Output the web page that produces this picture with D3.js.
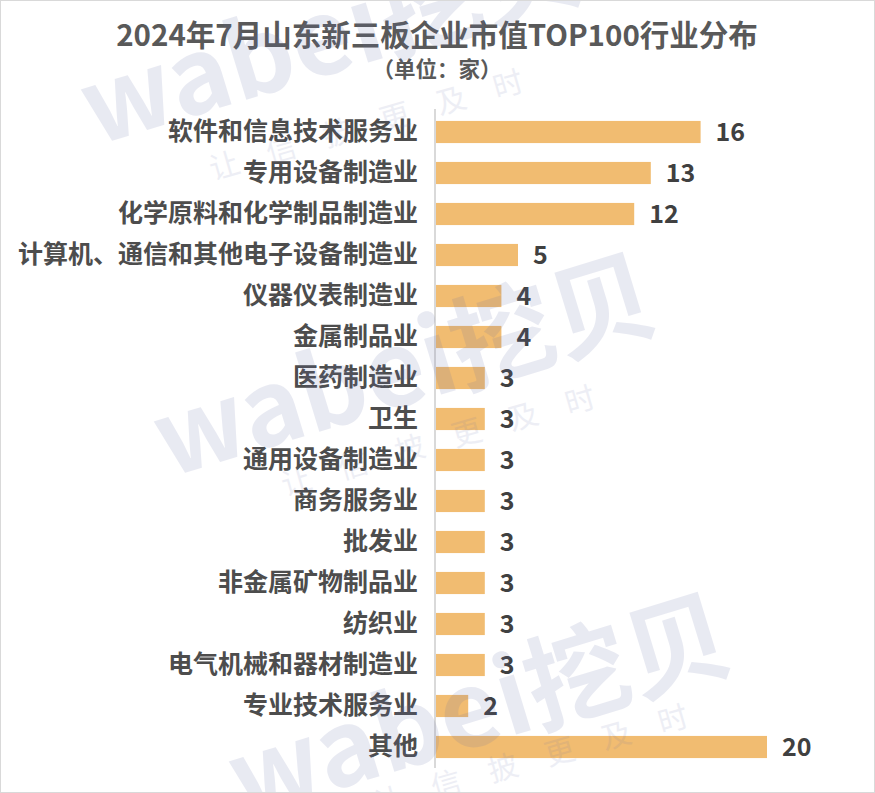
<!DOCTYPE html>
<html><head><meta charset="utf-8">
<script src="https://cdn.jsdelivr.net/npm/d3@7/dist/d3.min.js"></script>
<style>body{margin:0;background:#fff}svg{display:block}</style>
</head><body>
<script>
const categories = ["软件和信息技术服务业","专用设备制造业","化学原料和化学制品制造业","计算机、通信和其他电子设备制造业","仪器仪表制造业","金属制品业","医药制造业","卫生","通用设备制造业","商务服务业","批发业","非金属矿物制品业","纺织业","电气机械和器材制造业","专业技术服务业","其他"];
const values = [16,13,12,5,4,4,3,3,3,3,3,3,3,3,2,20];
const title = "2024年7月山东新三板企业市值TOP100行业分布";
const subtitle = "（单位：家）";
const watermark = "wabei挖贝";
const slogan = "让信披更及时";

const W = 875, H = 793;
const font = "'Noto Sans CJK SC','Microsoft YaHei',sans-serif";
const svg = d3.select("body").append("svg").attr("width", W).attr("height", H);
svg.append("rect").attr("x",0.5).attr("y",0.5).attr("width",W-1).attr("height",H-1)
  .attr("fill","#fff").attr("stroke","#d9d9d9");

const x = d3.scaleLinear().domain([0,20]).range([435,767]);
const y = d3.scaleBand().domain(categories).range([111.5,767.5]).paddingInner(0.46).paddingOuter(0.23);

svg.append("text").attr("x",437).attr("y",46).attr("text-anchor","middle")
  .attr("font-family",font).attr("font-weight","bold").attr("font-size",29.5).attr("fill","#595959").text(title);
svg.append("text").attr("x",437).attr("y",77).attr("text-anchor","middle")
  .attr("font-family",font).attr("font-weight","bold").attr("font-size",21.5).attr("fill","#595959").text(subtitle);

svg.selectAll("rect.bar").data(values).enter().append("rect").attr("class","bar")
  .attr("x",x(0)).attr("y",(d,i)=>y(categories[i])).attr("width",d=>x(d)-x(0)).attr("height",y.bandwidth())
  .attr("fill","#F1BC71");

const axis = d3.axisLeft(y).tickSize(0).tickPadding(17);
const g = svg.append("g").attr("transform",`translate(${x(0)},0)`).call(axis);
g.select(".domain").attr("stroke","#d9d9d9").attr("stroke-width",2).attr("d","M0,109V768");
g.selectAll(".tick text").attr("font-family",font).attr("font-weight","bold").attr("font-size",25).attr("fill","#4d4d4d");

svg.selectAll("text.val").data(values).enter().append("text").attr("class","val")
  .attr("x",d=>x(d)+15).attr("y",(d,i)=>y(categories[i])+y.bandwidth()/2).attr("dy","0.35em")
  .attr("font-family",font).attr("font-weight","bold").attr("font-size",25).attr("fill","#404040").text(d=>d);

// watermarks on top, semi transparent
svg.append("clipPath").attr("id","c").append("rect").attr("x",1).attr("y",1).attr("width",W-2).attr("height",H-2);
const wg = svg.append("g").attr("clip-path","url(#c)").attr("fill","#646ea8").attr("pointer-events","none");
[[95,146],[168,478],[243,818]].forEach(([a,b])=>{
  wg.append("text").attr("transform",`translate(${a},${b}) rotate(-17)`).attr("font-family",font)
    .attr("font-weight","bold").attr("font-size",104).attr("opacity",0.14).text(watermark);
});
[[213,180],[285,496],[378,815]].forEach(([a,b])=>{
  wg.append("text").attr("transform",`translate(${a},${b}) rotate(-16)`).attr("font-family",font)
    .attr("font-size",30).attr("letter-spacing",29).attr("opacity",0.11).text(slogan);
});
</script>
</body></html>
